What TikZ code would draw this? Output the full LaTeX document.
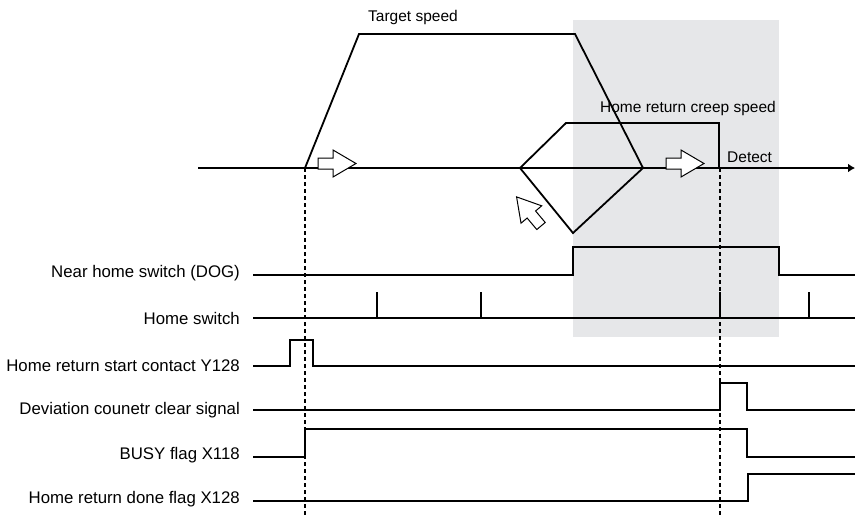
\documentclass[tikz,border=0pt]{standalone}
\usepackage{fontspec}
\setmainfont{Liberation Sans}
\usepackage{xcolor}
\usepackage{tikz}
\usetikzlibrary{arrows.meta}
\definecolor{dogshade}{RGB}{230,231,233}

\begin{document}
\begin{tikzpicture}[x=1pt, y=-1pt,
  sig/.style={line width=1.8pt},
  lbl/.style={anchor=east, inner sep=0pt, font=\fontsize{16.8}{19}\selectfont},
  txt/.style={inner sep=0pt, font=\fontsize{15.5}{18}\selectfont},
  guide/.style={line width=1.2pt, dash pattern=on 4pt off 3pt},
  hollow/.pic={\draw[line width=1pt, fill=white] (0,-5.5) -- (15,-5.5) -- (15,-13.5) -- (38,0) -- (15,13.5) -- (15,5.5) -- (0,5.5) -- cycle;}]
  \useasboundingbox (0,0) rectangle (855,517);

  % Zona del DOG
  \fill[dogshade] (573,20) rectangle (779,337);

  % Eje de velocidad
  \draw[line width=1.5pt, -{Latex[length=7pt,width=9pt]}] (198,168) -- (855,168);
  \coordinate (t0) at (305,168);
  \coordinate (t1) at (720,168);

  % Velocidad objetivo
  \draw[sig] (t0) -- (359,34) -- (575,34) -- (643,168);
  \node[txt] (vtarget) at (413,17) {Target speed};

  % Velocidad de aproximacion
  \draw[sig] (643,168) -- (573,233) -- (520,168) -- (566,123) -- (719,123) -- (719,168);
  \node[txt] (vcreep) at (688,108) {Home return creep speed};
  \node[txt, anchor=west] (detect) at (727,157) {Detect};

  % Flechas de sentido
  \pic at (318,163.5) {hollow};
  \pic at (666,163.5) {hollow};
  \pic[rotate=130] at (541,226) {hollow};

  % Lineas guia
  \draw[guide] (t0) -- (t0 |- 0,516);
  \draw[guide] (t1) -- (t1 |- 0,516);

  % Nombres de las senales
  \node[lbl] (dog) at (240,273) {Near home switch (DOG)};
  \node[lbl] (hsw) at (240,318) {Home switch};
  \node[lbl] (start) at (240,366) {Home return start contact Y128};
  \node[lbl] (clr) at (240,410) {Deviation counetr clear signal};
  \node[lbl] (busy) at (240,455) {BUSY flag X118};
  \node[lbl] (done) at (240,499) {Home return done flag X128};

  % Senales
  \draw[sig] (253,275) -- (573,275) -- (573,247) -- (779,247) -- (779,275) -- (855,275);
  \draw[sig] (253,318) -- (855,318);
  \foreach \x in {377,481,720,809}
    \draw[sig] (\x,318) -- (\x,292);
  \draw[sig] (253,366) -- (290,366) -- (290,340) -- (313,340) -- (313,366) -- (855,366);
  \draw[sig] (253,410) -- (720,410) -- (720,383) -- (747,383) -- (747,410) -- (855,410);
  \draw[sig] (253,457) -- (305,457) -- (305,429) -- (747,429) -- (747,457) -- (855,457);
  \draw[sig] (253,501) -- (748,501) -- (748,474) -- (855,474);
\end{tikzpicture}
\end{document}
